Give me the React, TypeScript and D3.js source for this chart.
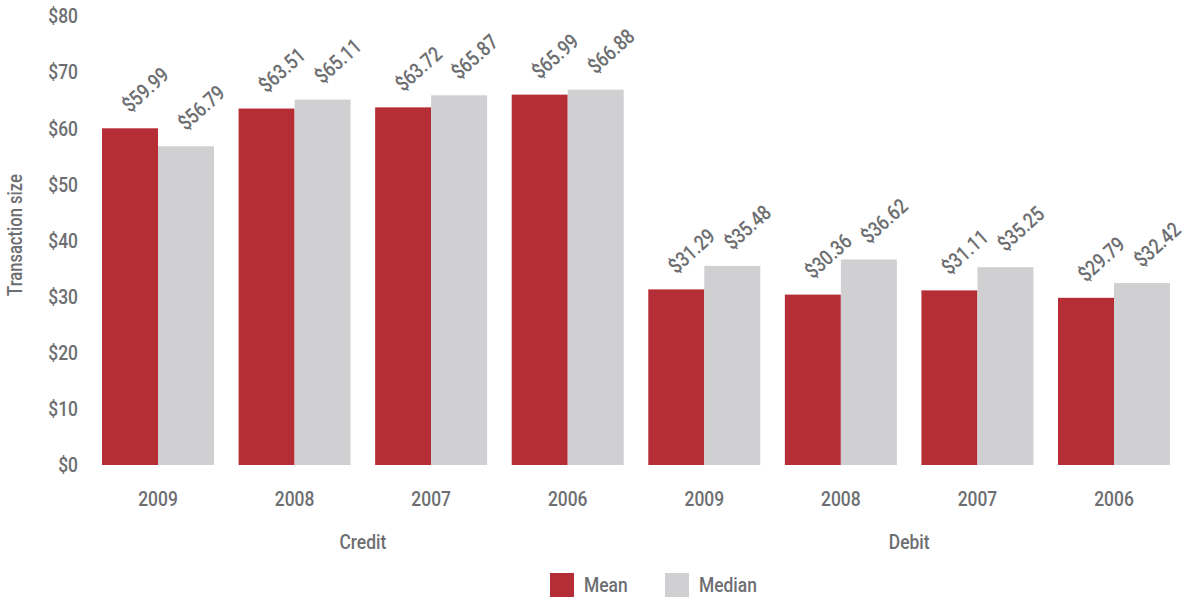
import React from "react";
import * as d3 from "d3";

const groups = ["Credit", "Debit"];
const years = ["2009", "2008", "2007", "2006"];
const categories = groups.flatMap((g) => years.map((y) => `${g}-${y}`));
const meanValues = [59.99, 63.51, 63.72, 65.99, 31.29, 30.36, 31.11, 29.79];
const medianValues = [56.79, 65.11, 65.87, 66.88, 35.48, 36.62, 35.25, 32.42];
const seriesNames = ["Mean", "Median"];
const yTicks = [0, 10, 20, 30, 40, 50, 60, 70, 80];

const W = 1186;
const H = 598;
const FONT = "Roboto, 'Liberation Sans', sans-serif";
const TEXT = "#6d6e71";
const COLORS = ["#b52d35", "#d0d0d2"];
const SX = 0.83;
const FS = 21;

function T({ x, y, rotate = 0, anchor = "start", dy = "0", size = FS, children }: any) {
  return (
    <text
      transform={`translate(${x},${y}) rotate(${rotate}) scale(${SX},1)`}
      textAnchor={anchor}
      dy={dy}
      fontSize={size}
      fontWeight={500}
      fill={TEXT}
    >
      {children}
    </text>
  );
}

export default function App() {
  const groupWidth = 112;
  const step = (1170 - 102 - groupWidth) / 7;
  const x = d3
    .scaleBand<string>()
    .domain(categories)
    .range([102, 1170])
    .paddingInner((step - groupWidth) / step)
    .paddingOuter(0);
  const x1 = d3.scaleBand<string>().domain(seriesNames).range([0, x.bandwidth()]).padding(0);
  const y = d3.scaleLinear().domain([0, 80]).range([465, 16]);
  const color = d3.scaleOrdinal<string, string>().domain(seriesNames).range(COLORS);
  const fmt = (v: number) => `$${v.toFixed(2)}`;
  const series = [meanValues, medianValues];

  return (
    <svg width={W} height={H} style={{ position: "absolute", left: 0, top: 0 }} fontFamily={FONT}>
      <rect width={W} height={H} fill="#fff" />
      {/* y axis */}
      {yTicks.map((t) => (
        <T key={t} x={78} y={y(t)} dy="0.35em" anchor="end">
          {`$${t}`}
        </T>
      ))}
      <T x={22} y={235} rotate={-90} anchor="middle" size={20}>
        Transaction size
      </T>
      {/* bars */}
      {categories.map((c, i) => (
        <g key={c} transform={`translate(${x(c)},0)`}>
          {seriesNames.map((s, j) => {
            const v = series[j][i];
            const bx = x1(s)!;
            return (
              <g key={s}>
                <rect
                  x={bx}
                  y={y(v)}
                  width={x1.bandwidth()}
                  height={y(0) - y(v)}
                  fill={color(s)}
                />
                <T x={bx + 28} y={y(v) - 15} rotate={-42}>
                  {fmt(v)}
                </T>
              </g>
            );
          })}
          <T x={x.bandwidth() / 2} y={499} dy="0.35em" anchor="middle">
            {years[i % years.length]}
          </T>
        </g>
      ))}
      {/* group labels */}
      {groups.map((g) => {
        const first = x(`${g}-${years[0]}`)!;
        const last = x(`${g}-${years[years.length - 1]}`)! + x.bandwidth();
        return (
          <T key={g} x={(first + last) / 2} y={542} dy="0.35em" anchor="middle">
            {g}
          </T>
        );
      })}
      {/* legend */}
      {seriesNames.map((s, j) => {
        const lx = [550, 665][j];
        return (
          <g key={s}>
            <rect x={lx} y={573} width={24} height={24} fill={color(s)} />
            <T x={lx + 34} y={585} dy="0.35em">
              {s}
            </T>
          </g>
        );
      })}
    </svg>
  );
}
